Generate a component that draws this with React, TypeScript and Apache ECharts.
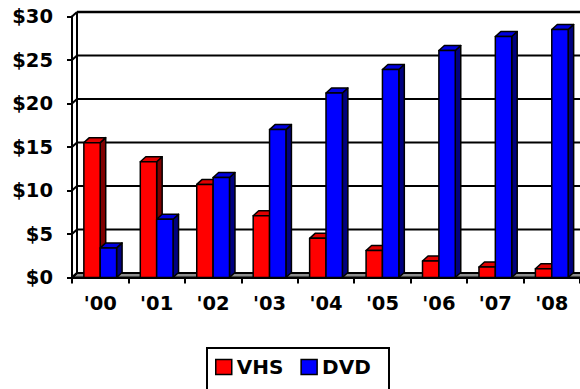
import React, { useEffect, useRef } from "react";
import * as echarts from "echarts";

const categories = ["'00", "'01", "'02", "'03", "'04", "'05", "'06", "'07", "'08"];
const vhsValues = [15.5, 13.3, 10.7, 7.1, 4.5, 3.1, 1.9, 1.2, 1.0];
const dvdValues = [3.4, 6.7, 11.5, 17.0, 21.2, 23.9, 26.1, 27.7, 28.5];
const yTicks = [0, 5, 10, 15, 20, 25, 30];

const FONT = "DejaVu Sans";
const WALL_DX = 5;
const WALL_DY = 4.5;
const BAR_DX = 5.5;
const BAR_DY = 5;

function makeBarRenderer(slot: number, front: string, side: string, top: string) {
  return (params: any, api: any) => {
    const cat = api.value(0);
    const val = api.value(1);
    const base = api.coord([cat, 0]);
    const tp = api.coord([cat, val]);
    const band = api.size([1, 0])[0];
    const bw = band * 0.29;
    const x0 = base[0] + (slot === 0 ? -bw : 0);
    const x1 = x0 + bw;
    const yb = base[1];
    const yt = tp[1];
    const stroke = { stroke: "#000", lineWidth: 1.5, lineJoin: "round" };
    return {
      type: "group",
      children: [
        {
          type: "polygon",
          shape: { points: [[x1, yt], [x1 + BAR_DX, yt - BAR_DY], [x1 + BAR_DX, yb - BAR_DY], [x1, yb]] },
          style: { fill: side, ...stroke },
        },
        {
          type: "polygon",
          shape: { points: [[x0, yt], [x0 + BAR_DX, yt - BAR_DY], [x1 + BAR_DX, yt - BAR_DY], [x1, yt]] },
          style: { fill: top, ...stroke },
        },
        {
          type: "rect",
          shape: { x: x0, y: yt, width: bw, height: yb - yt },
          style: { fill: front, ...stroke },
        },
      ],
    };
  };
}

function wallRenderer(params: any, api: any) {
  const cs = params.coordSys;
  const gx = cs.x;
  const right = cs.x + cs.width + 10;
  const children: any[] = [];
  const y0 = api.coord([0, 0])[1];
  const yTop = api.coord([0, yTicks[yTicks.length - 1]])[1];
  children.push({
    type: "polygon",
    shape: { points: [[gx, y0], [gx + WALL_DX, y0 - WALL_DY], [right, y0 - WALL_DY], [right, y0]] },
    style: { fill: "#8c8c8c", stroke: "#000", lineWidth: 2 },
  });
  children.push({
    type: "line",
    shape: { x1: gx + WALL_DX, y1: yTop - WALL_DY, x2: gx + WALL_DX, y2: y0 - WALL_DY },
    style: { stroke: "#000", lineWidth: 2 },
  });
  yTicks.forEach((v) => {
    const y = api.coord([0, v])[1];
    children.push({
      type: "line",
      shape: { x1: gx, y1: y, x2: gx + WALL_DX, y2: y - WALL_DY },
      style: { stroke: "#000", lineWidth: 2 },
    });
    if (v !== 0) {
      children.push({
        type: "line",
        shape: { x1: gx + WALL_DX, y1: y - WALL_DY, x2: right, y2: y - WALL_DY },
        style: { stroke: "#000", lineWidth: v === 30 ? 2.5 : 2 },
      });
    }
  });
  return { type: "group", children };
}

export default function App() {
  const ref = useRef<HTMLDivElement>(null);
  useEffect(() => {
    if (!ref.current) return;
    const chart = echarts.init(ref.current, undefined, { renderer: "svg" });
    const labelStyle = { fontFamily: FONT, fontWeight: "bold", fontSize: 19.5, color: "#000" };
    chart.setOption({
      animation: false,
      backgroundColor: "#fff",
      grid: { left: 72, top: 16.5, width: 511, height: 261 },
      xAxis: {
        type: "category",
        data: categories,
        axisLine: { show: true, lineStyle: { color: "#000", width: 2 } },
        axisTick: { show: true, length: 6, lineStyle: { color: "#000", width: 2 } },
        axisLabel: { ...labelStyle, margin: 16, interval: 0 },
        splitLine: { show: false },
      },
      yAxis: {
        type: "value",
        min: 0,
        max: 30,
        interval: 5,
        axisLine: { show: true, lineStyle: { color: "#000", width: 2 } },
        axisTick: { show: true, length: 5, lineStyle: { color: "#000", width: 2 } },
        axisLabel: { ...labelStyle, margin: 19, formatter: (v: number) => "$" + v },
        splitLine: { show: false },
      },
      legend: {
        left: 215,
        top: 357,
        itemWidth: 16,
        itemHeight: 15,
        itemGap: 17,
        icon: "rect",
        padding: 0,
        data: [
          { name: "VHS", itemStyle: { color: "#ff0000", borderColor: "#000", borderWidth: 1.5 } },
          { name: "DVD", itemStyle: { color: "#0000ff", borderColor: "#000", borderWidth: 1.5 } },
        ],
        textStyle: { ...labelStyle, fontSize: 20, padding: [0, 0, 0, 0] },
      },
      graphic: [
        {
          type: "rect",
          shape: { x: 207, y: 348, width: 182, height: 60 },
          style: { fill: "none", stroke: "#000", lineWidth: 2 },
          silent: true,
        },
      ],
      series: [
        {
          type: "custom",
          name: "walls",
          z: 1,
          silent: true,
          renderItem: wallRenderer,
          data: [[0, 0]],
          clip: false,
        },
        {
          type: "custom",
          name: "VHS",
          z: 2,
          itemStyle: { color: "#ff0000" },
          renderItem: makeBarRenderer(0, "#ff0000", "#800000", "#e00000"),
          data: vhsValues.map((v, i) => [i, v]),
        },
        {
          type: "custom",
          name: "DVD",
          z: 3,
          itemStyle: { color: "#0000ff" },
          renderItem: makeBarRenderer(1, "#0000ff", "#000080", "#0000e0"),
          data: dvdValues.map((v, i) => [i, v]),
        },
      ],
    });
    return () => chart.dispose();
  }, []);
  return (
    <div
      ref={ref}
      style={{ position: "fixed", left: 0, top: 0, width: 580, height: 389, background: "#fff" }}
    />
  );
}
